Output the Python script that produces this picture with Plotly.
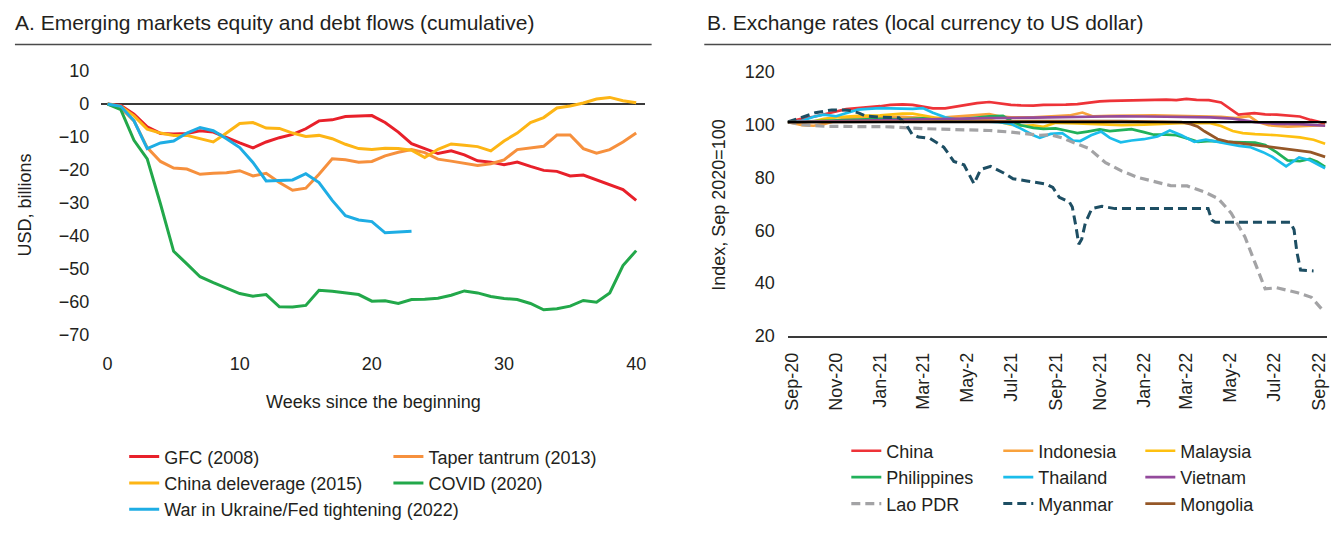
import plotly.graph_objects as go

W, H = 1338, 537

# ---------------- Panel A data (weekly, USD billions) ----------------
weeks = list(range(41))
gfc = [0, -0.4, -3.1, -6.9, -8.9, -9.1, -8.9, -8.1, -8.5, -10.2, -11.8, -13.3, -11.5, -10.2, -9.2,
       -7.5, -5.1, -4.8, -3.8, -3.6, -3.5, -5.6, -8.5, -12.0, -13.5, -15.0, -14.2, -15.4, -17.2,
       -17.6, -18.4, -17.6, -18.9, -20.1, -20.4, -21.8, -21.5, -23.0, -24.5, -25.9, -29.2]
taper = [0, -1.2, -5.1, -13.2, -17.4, -19.4, -19.7, -21.3, -21.0, -20.8, -20.2, -21.8, -21.0, -23.8,
         -26.1, -25.5, -21.3, -16.6, -16.9, -17.6, -17.4, -15.7, -14.6, -13.8, -14.7, -16.7, -17.3,
         -18.0, -18.6, -18.1, -16.9, -13.8, -13.2, -12.8, -9.4, -9.4, -13.5, -14.9, -13.8, -11.5, -8.8]
china_delev = [0, -0.7, -3.6, -7.6, -8.8, -9.5, -9.5, -10.5, -11.5, -8.8, -5.9, -5.6, -7.3, -7.4,
               -8.8, -9.8, -9.5, -10.5, -12.2, -13.5, -13.8, -13.4, -13.5, -14.0, -16.2, -13.7, -12.1,
               -12.5, -12.9, -14.2, -11.2, -8.8, -5.6, -4.1, -1.2, -0.6, 0.3, 1.5, 2.0, 1.0, 0.4]
covid = [0, -1.7, -11.0, -16.6, -30.2, -44.6, -48.4, -52.3, -54.1, -55.8, -57.4, -58.2, -57.7, -61.4,
         -61.5, -61.0, -56.4, -56.7, -57.2, -57.7, -59.7, -59.6, -60.4, -59.2, -59.1, -58.8, -57.9,
         -56.6, -57.2, -58.3, -58.9, -59.2, -60.4, -62.3, -62.0, -61.2, -59.5, -60.0, -57.2, -48.9, -44.4]
war_weeks = list(range(24))
war = [0, -0.7, -5.1, -13.5, -11.8, -11.2, -8.8, -7.1, -8.1, -10.5, -13.2, -17.7, -23.3, -23.1,
       -23.0, -21.1, -23.8, -29.2, -33.8, -35.1, -35.6, -39.0, -38.8, -38.5]

a_yticks = [10, 0, -10, -20, -30, -40, -50, -60, -70]
a_xticks = [0, 10, 20, 30, 40]

# ---------------- Panel B data (index, Sep 2020 = 100) ----------------
china_d = ["2020-08-26", "2020-09-15", "2020-10-01", "2020-10-15", "2020-11-01", "2020-11-15",
           "2020-12-01", "2020-12-15", "2021-01-01", "2021-01-15", "2021-02-01", "2021-02-15",
           "2021-03-01", "2021-03-15", "2021-04-01", "2021-04-15", "2021-05-01", "2021-05-15",
           "2021-06-01", "2021-06-15", "2021-07-01", "2021-07-15", "2021-08-01", "2021-08-15",
           "2021-09-01", "2021-09-15", "2021-10-01", "2021-10-15", "2021-11-01", "2021-11-15",
           "2021-12-01", "2021-12-15", "2022-01-01", "2022-01-15", "2022-02-01", "2022-02-15",
           "2022-03-01", "2022-03-15", "2022-04-01", "2022-04-18", "2022-05-03", "2022-05-12",
           "2022-06-03", "2022-06-18", "2022-07-04", "2022-07-19", "2022-08-05", "2022-08-20",
           "2022-09-09"]
china_v = [101, 102.3, 103, 104, 105, 105.9, 106.2, 106.5, 107, 107.5, 107.7, 107.5, 106.8, 106.2,
           106.2, 106.9, 107.5, 108.2, 108.6, 108, 107.5, 107.3, 107.2, 107.5, 107.4, 107.6, 107.8,
           108.3, 108.8, 109.0, 109.1, 109.1, 109.1, 109.3, 109.5, 109.3, 109.8, 109.4, 109.3, 108.4,
           105.5, 103.8, 104.4, 103.9, 103.8, 103.4, 103.1, 101.8, 100.5]

indo_d = ["2020-08-26", "2020-09-15", "2020-10-01", "2020-10-15", "2020-11-01", "2020-11-15",
          "2020-12-01", "2021-01-01", "2021-02-01", "2021-03-01", "2021-03-15", "2021-04-01",
          "2021-05-01", "2021-06-01", "2021-06-15", "2021-07-01", "2021-08-01", "2021-09-01",
          "2021-09-20", "2021-10-08", "2021-10-22", "2021-11-15", "2021-12-15", "2022-01-15",
          "2022-02-15", "2022-03-18", "2022-04-18", "2022-05-08", "2022-05-27", "2022-06-08",
          "2022-06-23", "2022-07-19", "2022-08-19", "2022-09-09"]
indo_v = [101, 99.8, 99.6, 100.2, 101.5, 102.5, 102.8, 102.9, 103.0, 102.6, 102.4, 102.8, 103.4,
          104.0, 103.2, 102.8, 102.8, 103.2, 103.5, 104.6, 103.2, 103.3, 103.4, 103.5, 103.3, 103.2,
          103.0, 102.5, 103.2, 101.0, 99.8, 99.3, 99.5, 99.8]

malay_d = ["2020-08-26", "2020-09-15", "2020-10-01", "2020-10-15", "2020-11-01", "2020-12-01",
           "2021-01-01", "2021-02-01", "2021-02-15", "2021-03-01", "2021-03-15", "2021-04-01",
           "2021-04-15", "2021-05-01", "2021-06-01", "2021-06-15", "2021-07-01", "2021-07-15",
           "2021-08-01", "2021-08-15", "2021-09-01", "2021-10-01", "2021-11-01", "2021-12-01",
           "2022-01-01", "2022-02-01", "2022-03-01", "2022-04-03", "2022-04-18", "2022-05-04",
           "2022-05-18", "2022-06-04", "2022-07-04", "2022-08-05", "2022-08-24", "2022-09-09"]
malay_v = [101, 101, 101.3, 102.2, 102.8, 103.3, 103.5, 104.2, 104.2, 103.5, 102.8, 101.8, 101.3,
           101.6, 101.8, 101.0, 100.0, 99.6, 99.7, 99.2, 100.7, 100.5, 100.0, 99.8, 100.0, 100.3,
           100.7, 100.6, 99.5, 97.6, 96.8, 96.4, 96.0, 95.2, 94.3, 92.8]

phil_d = ["2020-08-26", "2020-10-01", "2020-11-01", "2020-12-01", "2021-01-01", "2021-02-01",
          "2021-03-01", "2021-04-01", "2021-05-01", "2021-06-01", "2021-06-20", "2021-07-01",
          "2021-07-15", "2021-08-01", "2021-08-15", "2021-09-01", "2021-09-15", "2021-10-01",
          "2021-10-15", "2021-11-01", "2021-11-15", "2021-12-01", "2021-12-15", "2022-01-01",
          "2022-01-15", "2022-02-01", "2022-02-15", "2022-03-02", "2022-03-17", "2022-04-03",
          "2022-04-18", "2022-05-04", "2022-05-18", "2022-06-04", "2022-06-18", "2022-07-04",
          "2022-07-19", "2022-08-05", "2022-08-19", "2022-08-29", "2022-09-09"]
phil_v = [101, 101.3, 101.8, 102, 102.2, 102, 102.4, 101.5, 102.3, 103.2, 103.3, 101.5, 99.8, 98.8,
          98.4, 98.6, 97.8, 96.8, 97.4, 98.2, 97.6, 98.0, 98.3, 97.2, 96.2, 96.2, 96.0, 94.8, 93.5,
          93.9, 93.5, 93.4, 93.4, 93.2, 92.3, 89.5, 86.5, 86.2, 87.0, 86.0, 84.0]

thai_d = ["2020-08-26", "2020-09-15", "2020-10-01", "2020-10-15", "2020-11-01", "2020-11-15",
          "2020-12-01", "2020-12-15", "2021-01-01", "2021-01-15", "2021-02-01", "2021-02-15",
          "2021-03-01", "2021-03-15", "2021-04-01", "2021-04-15", "2021-05-01", "2021-06-01",
          "2021-06-15", "2021-07-01", "2021-07-15", "2021-08-01", "2021-08-10", "2021-08-25",
          "2021-09-10", "2021-09-25", "2021-10-05", "2021-10-20", "2021-11-03", "2021-11-15",
          "2021-11-30", "2021-12-15", "2022-01-01", "2022-01-20", "2022-02-06", "2022-02-22",
          "2022-03-12", "2022-03-28", "2022-04-13", "2022-04-28", "2022-05-13", "2022-05-28",
          "2022-06-15", "2022-06-28", "2022-07-17", "2022-08-04", "2022-08-19", "2022-09-09"]
thai_v = [101, 101.5, 103, 103.8, 103.2, 104.5, 105.7, 106, 106.3, 106.2, 106.1, 106.0, 106.3,
          104.5, 102.8, 102, 101.5, 101.2, 101.0, 100.3, 98.5, 96.0, 95.0, 96.5, 96.8, 94.0, 93.8,
          96.0, 97.4, 95.0, 93.3, 94.0, 94.5, 95.5, 97.8, 96.0, 93.5, 94.3, 93.5, 92.6, 92.0, 91.5,
          89.6, 87.8, 84.2, 87.6, 86.5, 83.5]

viet_d = ["2020-08-26", "2020-10-01", "2020-12-01", "2021-02-01", "2021-04-01", "2021-06-01",
          "2021-08-01", "2021-10-01", "2021-12-01", "2022-02-01", "2022-04-03", "2022-05-04",
          "2022-06-04", "2022-07-04", "2022-08-05", "2022-09-09"]
viet_v = [101, 101.2, 101.6, 102.0, 102.3, 102.5, 102.7, 103.0, 103.2, 103.0, 102.8, 102.3, 101.0,
          100.3, 100.2, 99.6]

lao_d = ["2020-08-26", "2020-09-15", "2020-10-15", "2020-12-01", "2021-01-15", "2021-03-01",
         "2021-04-15", "2021-06-01", "2021-07-01", "2021-07-20", "2021-08-10", "2021-08-25",
         "2021-09-10", "2021-09-24", "2021-10-17", "2021-11-09", "2021-12-01", "2021-12-24",
         "2022-01-17", "2022-02-07", "2022-03-02", "2022-03-26", "2022-04-14", "2022-05-02",
         "2022-05-21", "2022-06-09", "2022-06-18", "2022-07-04", "2022-07-18", "2022-08-02",
         "2022-08-21", "2022-09-08"]
lao_v = [101, 100, 99.4, 99.2, 99.2, 98.5, 98.2, 97.8, 97.2, 96.5, 96.0, 96.2, 95.0, 93.4, 91.0,
         85.6, 82.5, 80.0, 78.2, 76.9, 76.8, 74.5, 72.0, 66.5, 57.5, 44.5, 37.8, 38.2, 37.3, 36.3,
         34.6, 29.0]

myan_d = ["2020-08-26", "2020-09-15", "2020-10-03", "2020-10-26", "2020-11-18", "2020-12-02",
          "2020-12-12", "2021-01-04", "2021-01-27", "2021-02-05", "2021-02-14", "2021-02-23",
          "2021-03-11", "2021-03-30", "2021-04-13", "2021-04-27", "2021-05-11", "2021-05-20",
          "2021-06-03", "2021-06-21", "2021-07-04", "2021-07-23", "2021-08-19", "2021-08-28",
          "2021-09-06", "2021-09-20", "2021-09-24", "2021-09-29", "2021-10-03", "2021-10-07",
          "2021-10-12", "2021-10-21", "2021-11-04", "2021-11-22", "2022-03-31", "2022-04-05",
          "2022-04-10", "2022-07-23", "2022-07-28", "2022-08-01", "2022-08-06", "2022-08-24"]
myan_v = [101, 102.8, 104.5, 105.6, 105.5, 104.5, 103.3, 102.8, 102.6, 100.5, 96.5, 95.3, 94.8,
          91.5, 86.1, 84.8, 77.6, 83.0, 84.2, 81.7, 79.5, 78.7, 77.5, 76.2, 72.5, 70.7, 68.8, 61.5,
          54.7, 56.6, 62.7, 68.2, 69.1, 68.2, 68.2, 63.9, 63.0, 63.0, 60.2, 51.6, 44.9, 44.6]

mong_d = ["2020-08-26", "2020-12-01", "2021-06-01", "2021-12-01", "2022-02-01", "2022-02-22",
          "2022-03-07", "2022-03-17", "2022-03-26", "2022-04-04", "2022-04-13", "2022-04-27",
          "2022-05-21", "2022-06-13", "2022-07-05", "2022-07-27", "2022-08-20", "2022-09-09"]
mong_v = [101, 101.2, 101.3, 101.4, 101.3, 101.0, 100.2, 99.2, 97.5, 96.0, 94.6, 93.6, 92.8, 92.0,
          91.4, 90.6, 89.6, 87.8]

b_xtickvals = ["2020-09-01", "2020-11-01", "2021-01-01", "2021-03-01", "2021-05-01", "2021-07-01",
               "2021-09-01", "2021-11-01", "2022-01-01", "2022-03-01", "2022-05-01", "2022-07-01",
               "2022-09-01"]
b_xticktext = ["Sep-20", "Nov-20", "Jan-21", "Mar-21", "May-2", "Jul-21", "Sep-21", "Nov-21",
               "Jan-22", "Mar-22", "May-2", "Jul-22", "Sep-22"]
b_yticks = [20, 40, 60, 80, 100, 120]
b_refline = 101

# ---------------- styling ----------------
FONT = "Liberation Sans, Arial, sans-serif"
TXT = "#231F20"
AXC = "#3a3a3a"


def px_x(p):
    return p / W


def px_y(p):
    return 1 - p / H


fig = go.Figure()

a_series = [
    ("GFC (2008)", weeks, gfc, "#E8202A", "legend"),
    ("Taper tantrum (2013)", weeks, taper, "#F6903D", "legend2"),
    ("China deleverage (2015)", weeks, china_delev, "#FDB515", "legend"),
    ("COVID (2020)", weeks, covid, "#22A84A", "legend2"),
    ("War in Ukraine/Fed tightening (2022)", war_weeks, war, "#1EADE4", "legend"),
]
for name, xs, ys, col, lg in a_series:
    fig.add_trace(go.Scatter(x=xs, y=ys, name=name, mode="lines",
                             line=dict(color=col, width=3), xaxis="x", yaxis="y",
                             legend=lg, hoverinfo="skip"))

b_series = [
    ("China", china_d, china_v, "#EE3338", "solid", 2.7, "legend3"),
    ("Indonesia", indo_d, indo_v, "#F9A23C", "solid", 2.7, "legend4"),
    ("Malaysia", malay_d, malay_v, "#FEC010", "solid", 2.7, "legend5"),
    ("Philippines", phil_d, phil_v, "#21B15A", "solid", 2.7, "legend3"),
    ("Thailand", thai_d, thai_v, "#1BBDEB", "solid", 2.7, "legend4"),
    ("Vietnam", viet_d, viet_v, "#934A9C", "solid", 2.7, "legend5"),
    ("Lao PDR", lao_d, lao_v, "#A3A3A5", "9px,5px", 3.2, "legend3"),
    ("Myanmar", myan_d, myan_v, "#1D4E63", "9px,5px", 3.0, "legend4"),
    ("Mongolia", mong_d, mong_v, "#955727", "solid", 2.7, "legend5"),
]
for name, xs, ys, col, dash, lw, lg in b_series:
    fig.add_trace(go.Scatter(x=xs, y=ys, name=name, mode="lines",
                             line=dict(color=col, width=lw, dash=dash), xaxis="x2", yaxis="y2",
                             legend=lg, hoverinfo="skip"))

tickfont = dict(family=FONT, size=18, color=TXT)

fig.update_layout(
    width=W, height=H,
    margin=dict(l=0, r=0, t=0, b=0),
    paper_bgcolor="white", plot_bgcolor="white",
    font=dict(family=FONT, size=18, color=TXT),
    xaxis=dict(domain=[px_x(96), px_x(643.5)], range=[-0.47, 40.68], tickvals=a_xticks,
               showgrid=False, zeroline=False, showline=False, ticks="", tickfont=tickfont,
               ticklabelstandoff=8, anchor="y", fixedrange=True),
    yaxis=dict(domain=[px_y(348.5), px_y(62)], range=[-72.5, 12], tickvals=a_yticks,
               ticktext=[("\u2212" + str(-v)) if v < 0 else str(v) for v in a_yticks],
               showgrid=False, zeroline=True, zerolinecolor=AXC, zerolinewidth=1.5,
               showline=False, ticks="", tickfont=tickfont, ticklabelstandoff=11,
               anchor="x", fixedrange=True),
    xaxis2=dict(type="date", domain=[px_x(787), px_x(1329.5)], range=["2020-08-26", "2022-09-11"],
                tickvals=b_xtickvals, ticktext=b_xticktext, tickangle=-90,
                showgrid=False, zeroline=False, showline=True, linecolor=AXC, linewidth=1.5,
                ticks="", tickfont=tickfont, ticklabelstandoff=8, anchor="y2", fixedrange=True),
    yaxis2=dict(domain=[px_y(340.7), px_y(64.3)], range=[20, 122], tickvals=b_yticks,
                showgrid=False, zeroline=False, showline=False, ticks="", tickfont=tickfont,
                ticklabelstandoff=12, anchor="x2", fixedrange=True),
    showlegend=True,
)

leg_common = dict(orientation="v", xanchor="left", yanchor="top", bgcolor="rgba(0,0,0,0)",
                  font=dict(family=FONT, size=18, color=TXT), tracegroupgap=0,
                  itemclick=False, itemdoubleclick=False)
fig.update_layout(
    legend=dict(x=px_x(119), y=px_y(446), **leg_common),
    legend2=dict(x=px_x(385), y=px_y(446), **leg_common),
    legend3=dict(x=px_x(846), y=px_y(440), **leg_common),
    legend4=dict(x=px_x(999), y=px_y(440), **leg_common),
    legend5=dict(x=px_x(1142), y=px_y(440), **leg_common),
)

shapes = [
    dict(type="line", xref="paper", yref="paper", x0=px_x(9), x1=px_x(650), y0=px_y(41.7),
         y1=px_y(41.7), line=dict(color="#4a4a4a", width=1.5)),
    dict(type="line", xref="paper", yref="paper", x0=px_x(703), x1=px_x(1334), y0=px_y(41.7),
         y1=px_y(41.7), line=dict(color="#4a4a4a", width=1.5)),
    dict(type="line", xref="x2 domain", yref="y2", x0=0, x1=1, y0=b_refline, y1=b_refline,
         line=dict(color="black", width=2.2), layer="above"),
]
fig.update_layout(shapes=shapes)

annotations = [
    dict(text="A. Emerging markets equity and debt flows (cumulative)", x=px_x(7), y=px_y(19),
         xref="paper", yref="paper", xanchor="left", yanchor="middle", showarrow=False,
         font=dict(family=FONT, size=21, color=TXT)),
    dict(text="B. Exchange rates (local currency to US dollar)", x=px_x(704), y=px_y(19),
         xref="paper", yref="paper", xanchor="left", yanchor="middle", showarrow=False,
         font=dict(family=FONT, size=21, color=TXT)),
    dict(text="Weeks since the beginning", x=px_x(369.5), y=px_y(409), xref="paper", yref="paper",
         xanchor="center", yanchor="middle", showarrow=False,
         font=dict(family=FONT, size=18, color=TXT)),
    dict(text="USD, billions", x=px_x(19), y=px_y(206), xref="paper", yref="paper",
         xanchor="center", yanchor="middle", showarrow=False, textangle=-90,
         font=dict(family=FONT, size=18, color=TXT)),
    dict(text="Index, Sep 2020=100", x=px_x(717), y=px_y(206), xref="paper", yref="paper",
         xanchor="center", yanchor="middle", showarrow=False, textangle=-90,
         font=dict(family=FONT, size=18, color=TXT)),
]
fig.update_layout(annotations=annotations)

# remove the default 8px page margin so the figure sits exactly in the 1338x537 window
fig.write_html("out.html", config={"displayModeBar": False},
               post_script="document.body.style.margin='0';document.body.style.overflow='hidden';")
